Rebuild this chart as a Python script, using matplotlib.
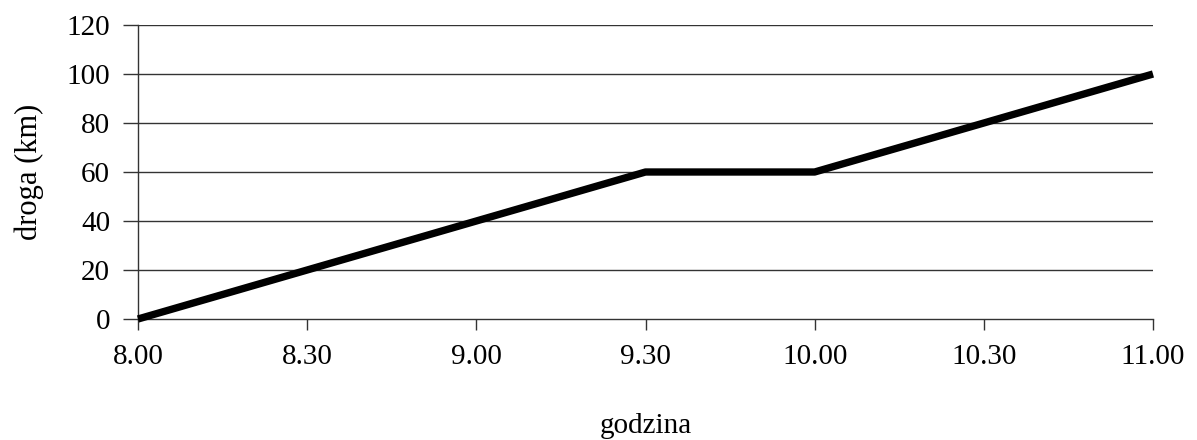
import matplotlib.pyplot as plt

godzina = ['8.00', '8.30', '9.00', '9.30', '10.00', '10.30', '11.00']
droga = [0, 20, 40, 60, 60, 80, 100]
y_ticks = [0, 20, 40, 60, 80, 100, 120]

plt.rcParams['font.family'] = ['Liberation Serif', 'DejaVu Serif']

fig = plt.figure(figsize=(11.97, 4.4), dpi=100)
ax = fig.add_axes([138 / 1197, 1 - 319 / 440, (1153 - 138) / 1197, (319 - 25) / 440])

x = list(range(len(godzina)))
for y in y_ticks[1:]:
    ax.axhline(y, color='#333333', lw=1.0, zorder=1)
ax.plot(x, droga, color='black', lw=5.3, solid_capstyle='butt', zorder=3, clip_on=False)

ax.set_xlim(0, len(godzina) - 1)
ax.set_ylim(0, 120)
ax.set_xticks(x)
ax.set_xticklabels(godzina)
ax.set_yticks(y_ticks)

for s in ['top', 'right']:
    ax.spines[s].set_visible(False)
for s in ['left', 'bottom']:
    ax.spines[s].set_color('#333333')
    ax.spines[s].set_linewidth(1.0)

ax.tick_params(axis='y', direction='out', length=11, width=1.0, color='#333333',
               labelsize=21, pad=9)
ax.tick_params(axis='x', direction='out', length=8, width=1.0, color='#333333',
               labelsize=21, pad=10)

ax.set_xlabel('godzina', fontsize=21, labelpad=31)
ax.set_ylabel('droga (km)', fontsize=22, labelpad=16)

plt.savefig('out.png', dpi=100)
